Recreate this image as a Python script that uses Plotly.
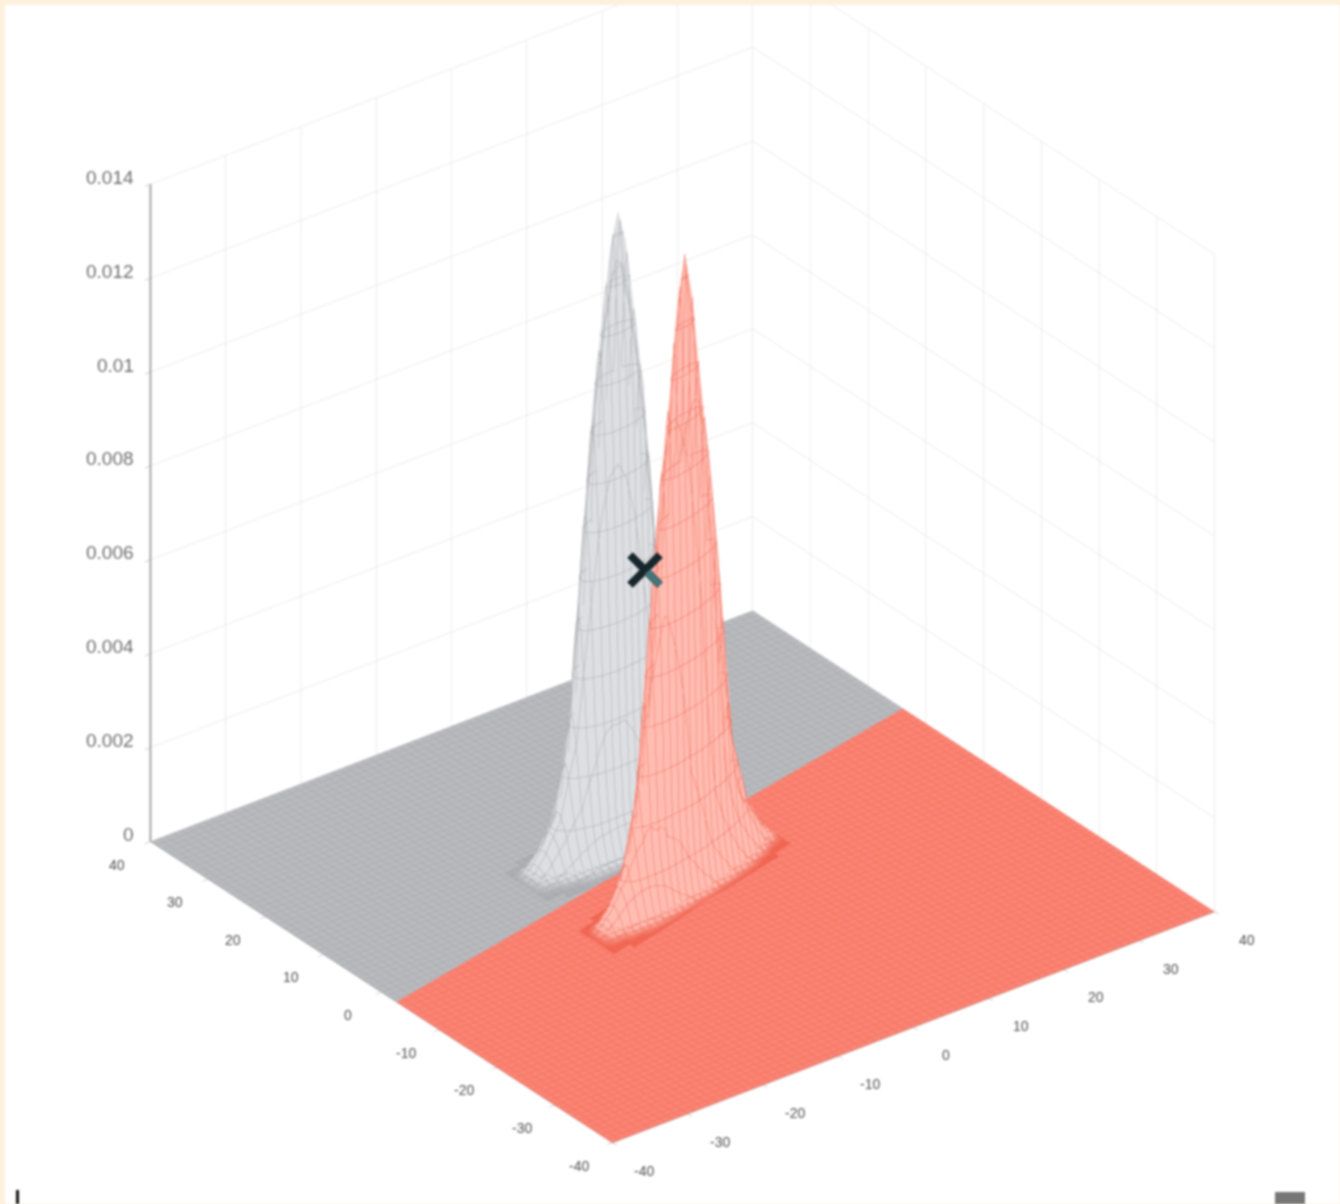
import plotly.graph_objects as go

N = None  # cell outside the peak's foot

red_x = [-15.75, -13.25, -11.25, -9.05, -6.95, -5.05, -3.75, -2.5, -1.25, 0, 1.25, 2.55, 4.45, 6.35, 8.75, 10.75, 13.25]
red_tilt = [-3.6, -3, -2.5, -1.95, -1.45, -0.95, -0.65, -0.3, 0, 0.3, 0.65, 0.95, 1.45, 1.95, 2.5, 3, 3.6]
red_y = [-5.85, -5.1, -4.5, -3.85, -3.4, -2.95, -2.6, -2.3, -2, -1.7, -1.4, -1.05, -0.6, -0.15, 0.5, 1.1, 1.85]
red_z = [
 [N, .00001, .00001, .00001, .00001, .00002, .00002, .00004, .00005, .00004, .00002, .00002, .00001, .00001, .00001, .00001, N],
 [.00001, .00002, .00002, .0002, .0003, .0004, .00045, .0005, .0005, .0005, .00045, .0004, .0003, .0002, .00002, .00002, .00001],
 [.00001, .00002, .00025, .0005, .00075, .0009, .0010, .0011, .0011, .0011, .0010, .0009, .00075, .0005, .00025, .00002, .00001],
 [.00001, .00018, .0005, .00095, .0013, .0018, .0022, .0026, .0027, .0026, .0022, .0018, .0013, .00095, .0005, .00018, .00001],
 [.00002, .0003, .00075, .0013, .0021, .0038, .0049, .0060, .0063, .0060, .0049, .0038, .0021, .0013, .00075, .0003, .00002],
 [.00002, .0004, .0009, .0018, .0038, .0068, .0081, .0088, .0091, .0088, .0081, .0068, .0038, .0018, .0009, .0004, .00002],
 [.00002, .00045, .0010, .0022, .0049, .0081, .0094, .0103, .0107, .0103, .0094, .0081, .0049, .0022, .0010, .00045, .00002],
 [.00002, .0005, .0011, .0026, .0059, .0088, .0103, .0117, .0125, .0117, .0103, .0088, .0059, .0026, .0011, .0005, .00002],
 [.00003, .0005, .0011, .0027, .0063, .0091, .0107, .0125, .0135, .0125, .0107, .0091, .0063, .0027, .0011, .0005, .00003],
 [.00002, .0005, .0011, .0026, .0059, .0088, .0103, .0117, .0125, .0117, .0103, .0088, .0059, .0026, .0011, .0005, .00002],
 [.00002, .00045, .0010, .0022, .0049, .0081, .0094, .0103, .0107, .0103, .0094, .0081, .0049, .0022, .0010, .00045, .00002],
 [.00002, .0004, .0009, .0018, .0038, .0068, .0081, .0088, .0091, .0088, .0081, .0068, .0038, .0018, .0009, .0004, .00002],
 [.00002, .0003, .00075, .0013, .0021, .0038, .0049, .0060, .0063, .0060, .0049, .0038, .0021, .0013, .00075, .0003, .00002],
 [.00001, .00018, .0005, .00095, .0013, .0018, .0022, .0026, .0027, .0026, .0022, .0018, .0013, .00095, .0005, .00018, .00001],
 [.00001, .00002, .00025, .0005, .00075, .0009, .0010, .0011, .0011, .0011, .0010, .0009, .00075, .0005, .00025, .00002, .00001],
 [.00001, .00002, .00002, .0002, .0003, .0004, .00045, .0005, .0005, .0005, .00045, .0004, .0003, .0002, .00002, .00002, .00001],
 [N, .00001, .00001, .00001, .00001, .00002, .00002, .00004, .00005, .00004, .00002, .00002, .00001, .00001, .00001, .00001, N],
]

gray_x = [-14.6, -12.3, -10.1, -7.9, -6.3, -4.6, -3.5, -2.4, -1.3, -0.2, 0.9, 2, 3.7, 5.3, 7.5, 9.7, 12]
gray_tilt = [-1.33, -1.1, -0.88, -0.66, -0.5, -0.33, -0.22, -0.11, 0, 0.11, 0.22, 0.33, 0.5, 0.66, 0.88, 1.1, 1.33]
gray_y = [4.8, 5.7, 6.5, 7.2, 7.8, 8.35, 8.75, 9.1, 9.5, 9.9, 10.25, 10.65, 11.2, 11.8, 12.5, 13.3, 14.2]
gray_z = [
 [N, .00001, .00001, .00001, .00001, .00002, .00002, .00004, .00005, .00004, .00002, .00002, .00001, .00001, .00001, .00001, N],
 [.00001, .00002, .00002, .0002, .0003, .0004, .00047, .0005, .0005, .0005, .00047, .0004, .0003, .0002, .00002, .00002, .00001],
 [.00001, .00002, .00025, .0005, .00075, .0009, .0010, .0011, .0011, .0011, .0010, .0009, .00075, .0005, .00025, .00002, .00001],
 [.00001, .00018, .0005, .0010, .0015, .0023, .0028, .0032, .0033, .0032, .0028, .0023, .0015, .0010, .0005, .00018, .00001],
 [.00002, .0003, .0008, .0015, .0028, .0047, .0058, .0066, .0068, .0066, .0058, .0047, .0028, .0015, .0008, .0003, .00002],
 [.00002, .0004, .0010, .0023, .0047, .0074, .0088, .0096, .0099, .0096, .0088, .0074, .0047, .0023, .0010, .0004, .00002],
 [.00002, .00047, .0011, .0028, .0058, .0088, .0101, .0110, .0114, .0110, .0101, .0088, .0058, .0028, .0011, .00047, .00002],
 [.00002, .0005, .0012, .0032, .0065, .0096, .0110, .0122, .0128, .0122, .0110, .0096, .0065, .0032, .0012, .0005, .00002],
 [.00003, .0005, .0012, .0033, .0068, .0099, .0114, .0128, .0135, .0128, .0114, .0099, .0068, .0033, .0012, .0005, .00003],
 [.00002, .0005, .0012, .0032, .0065, .0096, .0110, .0122, .0128, .0122, .0110, .0096, .0065, .0032, .0012, .0005, .00002],
 [.00002, .00047, .0011, .0028, .0058, .0088, .0101, .0110, .0114, .0110, .0101, .0088, .0058, .0028, .0011, .00047, .00002],
 [.00002, .0004, .0010, .0023, .0047, .0074, .0088, .0096, .0099, .0096, .0088, .0074, .0047, .0023, .0010, .0004, .00002],
 [.00002, .0003, .0008, .0015, .0028, .0047, .0058, .0066, .0068, .0066, .0058, .0047, .0028, .0015, .0008, .0003, .00002],
 [.00001, .00018, .0005, .0010, .0015, .0023, .0028, .0032, .0033, .0032, .0028, .0023, .0015, .0010, .0005, .00018, .00001],
 [.00001, .00002, .00025, .0005, .00075, .0009, .0010, .0011, .0011, .0011, .0010, .0009, .00075, .0005, .00025, .00002, .00001],
 [.00001, .00002, .00002, .0002, .0003, .0004, .00047, .0005, .0005, .0005, .00047, .0004, .0003, .0002, .00002, .00002, .00001],
 [N, .00001, .00001, .00001, .00001, .00002, .00002, .00004, .00005, .00004, .00002, .00002, .00001, .00001, .00001, .00001, N],
]

# Floor: flat at zero, split by the oblique class boundary
floor_x = [[-40, 40], [-40, 40]]
floor_z = [[0, 0], [0, 0]]
red_floor_y = [[-40, -40], [-2.6, 14]]
gray_floor_y = [[-2.6, 14], [40, 40]]

xy_ticks = [-40, -30, -20, -10, 0, 10, 20, 30, 40]
z_ticks = [0, 0.002, 0.004, 0.006, 0.008, 0.01, 0.012, 0.014]
z_labels = ["0", "0.002", "0.004", "0.006", "0.008", "0.01", "0.012", "0.014"]

CREAM = "#FDF0DC"
GRID = "#DADADA"
AXIS = "#A0A0A0"
XY_FONT = dict(family="Liberation Sans", size=14, color="#4F4F4F")
Z_FONT = dict(family="Liberation Sans", size=19, color="#6E6E6E")


def mesh(color, with_z=False):
    line = dict(show=True, start=-40, end=40, size=1.0, color=color, width=1)
    out = dict(x=line, y=line)
    if with_z:
        out["z"] = dict(show=True, start=0, end=0.014, size=0.001, color=color, width=1)
    return out


FLAT = dict(ambient=1, diffuse=0, specular=0, roughness=1, fresnel=0)


def floor(y, color, line):
    return go.Surface(
        x=floor_x, y=y, z=floor_z, cmin=0, cmax=1, showscale=False, hoverinfo="skip",
        colorscale=[[0, color], [1, color]], lighting=FLAT, contours=mesh(line),
    )


def peak(x, tilt, y, z, edge, pale, line):
    y_grid = [[row + t for t in tilt] for row in y]
    x_grid = [list(x) for _ in y]
    return go.Surface(
        x=x_grid, y=y_grid, z=z, cmin=0, cmax=0.014, showscale=False, hoverinfo="skip",
        colorscale=[[0, edge], [0.01, pale], [1, pale]],
        lighting=FLAT, contours=mesh(line, True),
    )


fig = go.Figure([
    floor(gray_floor_y, "#B9BABE", "#A6A7AB"),
    floor(red_floor_y, "#FB8474", "#EE6C5A"),
    peak(gray_x, gray_tilt, gray_y, gray_z, "#AFB0B4", "#DEDFE3", "#A6A7AB"),
    peak(red_x, red_tilt, red_y, red_z, "#F2634F", "#FFBDB2", "#EE6C5A"),
])


def axis(vals, rng=(-40, 40), width=2):
    return dict(
        range=list(rng), tickmode="array", tickvals=vals, showticklabels=False,
        title=dict(text=""), showgrid=True, gridcolor=GRID, gridwidth=1, showbackground=False,
        showline=True, linecolor=AXIS, linewidth=width, ticks="outside", ticklen=7, tickcolor=AXIS,
        zeroline=False, showspikes=False,
    )


labels = []
for v in xy_ticks:
    labels.append(dict(x=-40, y=v, z=0, text=str(v), showarrow=False, font=XY_FONT, xshift=-33, yshift=-23))
    labels.append(dict(x=v, y=-40, z=0, text=str(v), showarrow=False, font=XY_FONT, xshift=32, yshift=-28))
for v, t in zip(z_ticks, z_labels):
    labels.append(dict(x=-40, y=40, z=v, text=t, showarrow=False, font=Z_FONT, xanchor="right", xshift=-14, yshift=7))

d = 3.0
cx, cy, cz = -0.0420, -0.0272, -0.0817
fig.update_layout(
    width=1340, height=1204, autosize=False, margin=dict(l=0, r=0, t=0, b=0),
    paper_bgcolor=CREAM, showlegend=False,
    scene=dict(
        domain=dict(x=[5 / 1340, 1], y=[0, 1 - 5 / 1204]), bgcolor="white",
        xaxis=axis(xy_ticks), yaxis=axis(xy_ticks),
        zaxis=axis(z_ticks, (0, 0.014), 4),
        annotations=labels,
        aspectmode="manual", aspectratio=dict(x=1.266, y=1.266, z=1.266),
        camera=dict(
            projection=dict(type="orthographic"),
            up=dict(x=0, y=0, z=1),
            center=dict(x=cx, y=cy, z=cz),
            eye=dict(x=cx - 0.527 * d, y=cy - 0.687 * d, z=cz + 0.5 * d),
        ),
    ),
    shapes=[
        dict(type="line", xref="paper", yref="paper", x0=630 / 1340, x1=660 / 1340, y0=1 - 555 / 1204, y1=1 - 585 / 1204,
             line=dict(color="#16262A", width=8), layer="above"),
        dict(type="line", xref="paper", yref="paper", x0=660 / 1340, x1=630 / 1340, y0=1 - 555 / 1204, y1=1 - 585 / 1204,
             line=dict(color="#16262A", width=8), layer="above"),
        dict(type="line", xref="paper", yref="paper", x0=647 / 1340, x1=660 / 1340, y0=1 - 572 / 1204, y1=1 - 585 / 1204,
             line=dict(color="#44757A", width=7), layer="above"),
        dict(type="rect", xref="paper", yref="paper", x0=16 / 1340, x1=19 / 1340, y0=0, y1=14 / 1204,
             fillcolor="#111111", line=dict(width=0), layer="above"),
        dict(type="rect", xref="paper", yref="paper", x0=1275 / 1340, x1=1305 / 1340, y0=0, y1=12 / 1204,
             fillcolor="#777777", line=dict(width=0), layer="above"),
    ],
)

fig.write_html("out.html", config=dict(displayModeBar=False),
               post_script="document.body.style.margin='0';document.body.style.background='#FDF0DC';"
                           "document.getElementById('{plot_id}').style.filter='blur(1.2px)';")
